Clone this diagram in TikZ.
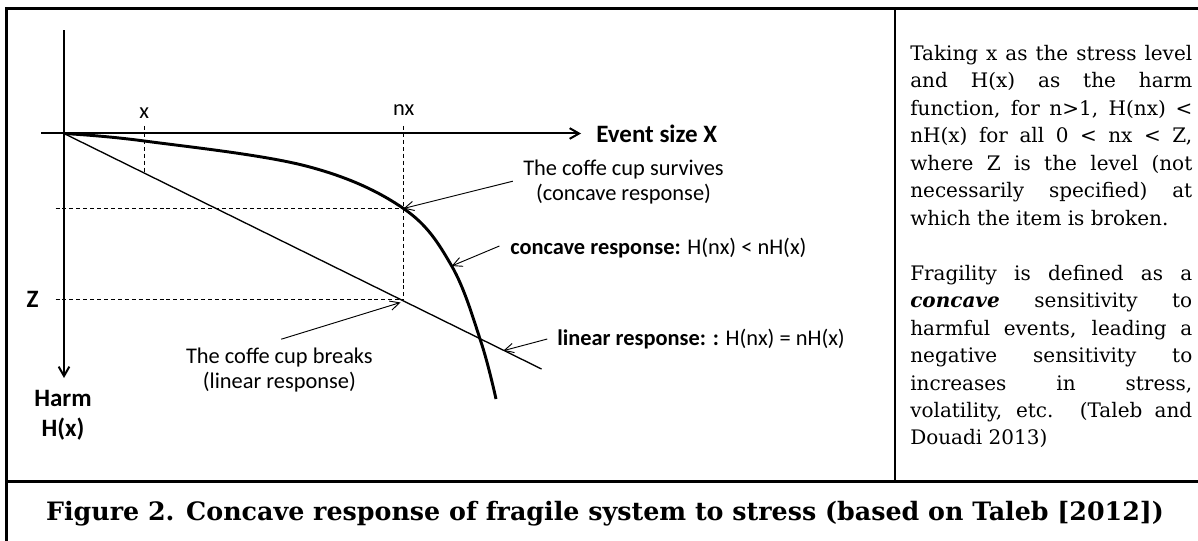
\documentclass[tikz,border=0pt]{standalone}
\usepackage{fontspec}
\setmainfont{DejaVu Serif}
\newfontfamily\calib{Carlito}
\usetikzlibrary{arrows.meta,positioning}
\setlength{\parindent}{0pt}

\begin{document}
\begin{tikzpicture}[x=0.75pt,y=-0.75pt]
\tikzstyle{frame}=[line width=2.2pt]
\tikzstyle{axis}=[line width=1.5pt, -{Straight Barb[length=7pt,width=8pt]}]
\tikzstyle{guide}=[line width=0.8pt, dash pattern=on 3pt off 2.2pt]
\tikzstyle{note}=[line width=0.7pt, -{Straight Barb[length=7pt,width=7pt]}]
\tikzstyle{lbl}=[font=\calib\fontsize{16.8}{18.75}\selectfont, inner sep=0pt]
\tikzstyle{bigl}=[font=\calib\bfseries\fontsize{18.75}{22.5}\selectfont, inner sep=0pt]
	\useasboundingbox (0,0) rectangle (1198,541);
	% table lines
	\draw[frame] (6.7,541) -- (6.7,8.3) -- (1198,8.3);
	\draw[frame] (6.7,481.5) -- (1198,481.5);
	\draw[frame] (895,8.3) -- (895,481.5);
	% axes
	\coordinate (O) at (64,133.5);
	\coordinate (ytop) at (64,30.5);
	\coordinate (ybot) at (64,378);
	\coordinate (xleft) at (41,133.5);
	\coordinate (xright) at (581,133.5);
	\draw[axis] (ytop) -- (ybot);
	\draw[axis] (xleft) -- (xright);
	\node[bigl, anchor=west] (event) at (596,134) {Event size X};
	\node[bigl, align=center] (harm) at (63,415) {Harm\\H(x)};
	\node[bigl] (zlab) at (32.5,299.5) {Z};
	\node[lbl] (xlab) at (144.3,113) {x};
	\node[lbl] (nxlab) at (403.7,110) {nx};
	% guides
	\coordinate (xtop) at (144.3,126);
	\coordinate (xlin) at (144.3,173.2);
	\coordinate (nxtop) at (403.5,126);
	\coordinate (crv) at (403.5,208.5);
	\coordinate (zpt) at (403.5,299.5);
	\coordinate (crvleft) at (55.5,208.5);
	\coordinate (zleft) at (55.5,299.5);
	\draw[guide] (xtop) -- (xlin);
	\draw[guide] (nxtop) -- (zpt);
	\draw[guide] (crvleft) -- (crv);
	\draw[guide] (zleft) -- (zpt);
	% responses
	\coordinate (linend) at (541.5,369);
	\draw[line width=1pt] (O) -- (linend);
	\draw[line width=2.2pt] plot[smooth, tension=0.6] coordinates {(64,133.5) (144.3,141) (306,166) (403.5,208.5) (451.7,266) (481,342) (496,399)};
	% notes
	\node[lbl, align=center] (survive) at (623.5,182) {The coffe cup survives\\(concave response)};
	\node[lbl, anchor=west] (concave) at (510,248) {\textbf{concave response:} H(nx) < nH(x)};
	\node[lbl, anchor=west] (linear) at (557,339) {\textbf{linear response: :} H(nx) = nH(x)};
	\node[lbl, align=center] (break) at (279.4,370.5) {The coffe cup breaks\\(linear response)};
	\coordinate (survtail) at (512.8,181.2);
	\coordinate (conctail) at (499.4,246);
	\coordinate (conctip) at (451.7,266);
	\coordinate (lintail) at (547.3,339);
	\coordinate (lintip) at (503.3,350.7);
	\coordinate (brktail) at (281.3,339.2);
	\coordinate (brktip) at (400.5,302.5);
	\draw[note] (survtail) -- (crv);
	\draw[note] (conctail) -- (conctip);
	\draw[note] (lintail) -- (lintip);
	\draw[note] (brktail) -- (brktip);
	% side text
	\node[anchor=north west, text width=211.5pt, align=justify, inner sep=0pt, font=\fontsize{15}{20.6}\selectfont] (desc) at (910,45) {\hyphenpenalty=10000
	Taking x as the stress level\linebreak
	and H(x) as the harm\linebreak
	function, for n>1, H(nx) <\linebreak
	nH(x) for all 0 < nx < Z,\linebreak
	where Z is the level (not\linebreak
	necessarily specified) at\linebreak
	which the item is broken.\par\vspace{20.6pt}
	Fragility is defined as a\linebreak
	\textbf{\textit{concave}} sensitivity to\linebreak
	harmful events, leading a\linebreak
	negative sensitivity to\linebreak
	increases in stress,\linebreak
	volatility, etc. (Taleb and\linebreak
	Douadi 2013)};
	% caption
	\node[font=\bfseries\fontsize{19}{22}\selectfont, inner sep=0pt] (caption) at (605,514) {Figure 2. Concave response of fragile system to stress (based on Taleb [2012])};
\end{tikzpicture}
\end{document}
